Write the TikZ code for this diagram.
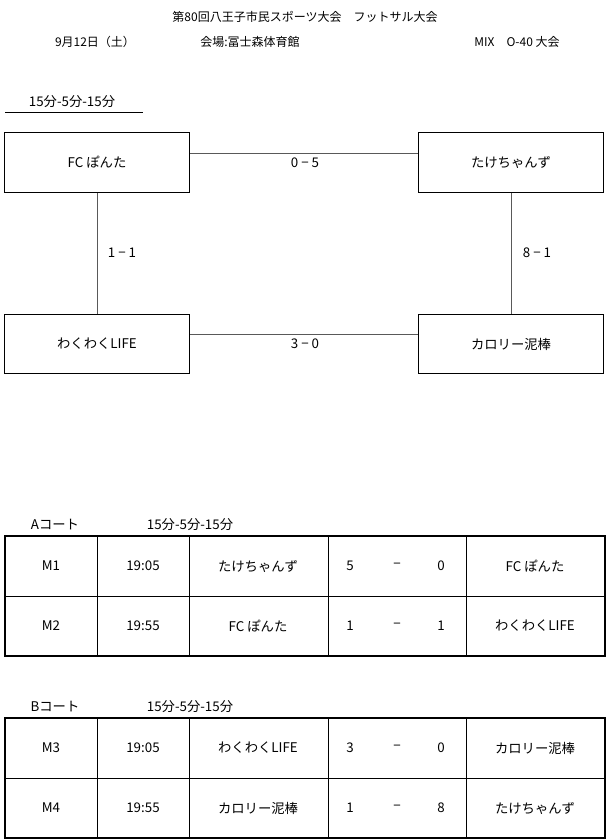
\documentclass[tikz,border=0pt]{standalone}
\usepackage{fontspec}
\setmainfont{Noto Sans CJK JP}
\newcommand\matchrow[7]{%
  \node[lbl] at (51,#1) {#2};
  \node[lbl] at (143,#1) {#3};
  \node[lbl] at (258,#1) {#4};
  \node[lbl] at (350,#1) {#5};
  \node[lbl] at (397,#1) {−};
  \node[lbl] at (441,#1) {#6};
  \node[lbl] at (535,#1) {#7};}
\newcommand\courttable[2]{%
  \node[lbl] at (55,#1-11) {#2};
  \node[lbl] at (190,#1-11) {15分-5分-15分};
  \draw[line width=0.8pt] (5,#1) rectangle (605,#1+120);
  \draw[line width=0.6pt] (5,#1+60) -- (605,#1+60);
  \foreach \x in {97,189,328,466} \draw[line width=0.6pt] (\x,#1) -- (\x,#1+120);}
\begin{document}
\begin{tikzpicture}[x=0.75pt,y=-0.75pt,
  team/.style={draw,line width=0.8pt,minimum width=138.75pt,minimum height=44.5pt,font=\fontsize{10}{12}\selectfont},
  lbl/.style={font=\fontsize{10}{12}\selectfont},
  small/.style={font=\fontsize{9}{11}\selectfont},
  conn/.style={draw=gray!70!black,line width=0.5pt}]
\useasboundingbox (0,0) rectangle (610,840);
\node[small] (title) at (305,17) {第80回八王子市民スポーツ大会　フットサル大会};
\node[small] (date) at (95,42) {9月12日（土）};
\node[small] (venue) at (250,42) {会場:冨士森体育館};
\node[small] (mix) at (517,42) {MIX　O-40 大会};
\node[lbl] (fmt) at (72,102) {15分-5分-15分};
\draw (5,112) -- (143,112);
\node[team] (fc) at (97,162.5) {FC ぽんた};
\node[team] (tk) at (511,162.5) {たけちゃんず};
\node[team] (wk) at (97,344) {わくわくLIFE};
\node[team] (kr) at (511,344) {カロリー泥棒};
\draw[conn] (fc.east |- 0,153) -- (tk.west |- 0,153);
\draw[conn] (wk.east |- 0,334) -- (kr.west |- 0,334);
\draw[conn] (fc.south) -- (wk.north);
\draw[conn] (tk.south) -- (kr.north);
\node[lbl] (s1) at (305,163) {0 − 5};
\node[lbl] (s2) at (305,344) {3 − 0};
\node[lbl] (s3) at (122,253) {1 − 1};
\node[lbl] (s4) at (537,253) {8 − 1};
\courttable{536}{Aコート}
\matchrow{566}{M1}{19:05}{たけちゃんず}{5}{0}{FC ぽんた}
\matchrow{626}{M2}{19:55}{FC ぽんた}{1}{1}{わくわくLIFE}
\courttable{718}{Bコート}
\matchrow{748}{M3}{19:05}{わくわくLIFE}{3}{0}{カロリー泥棒}
\matchrow{808}{M4}{19:55}{カロリー泥棒}{1}{8}{たけちゃんず}
\end{tikzpicture}
\end{document}
